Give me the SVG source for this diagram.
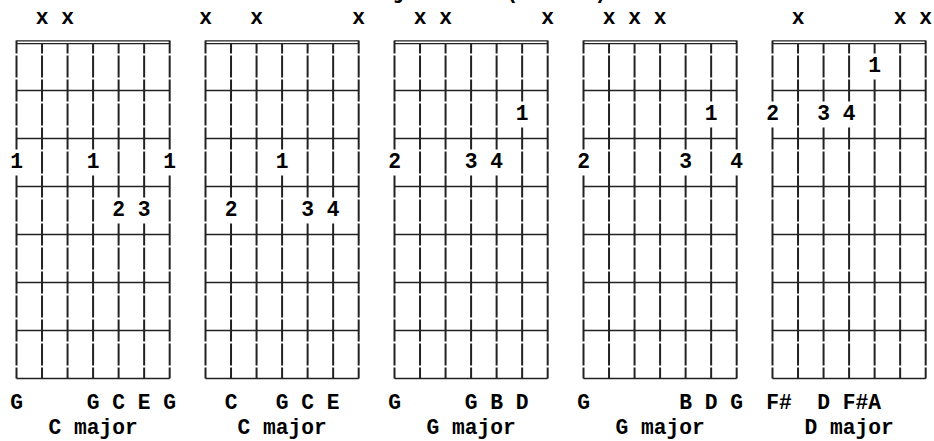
<svg xmlns="http://www.w3.org/2000/svg" width="934" height="441" viewBox="0 0 934 441">
<style>
.t{font-family:"Liberation Mono","DejaVu Sans Mono",monospace;font-weight:bold;font-size:21.275px;fill:#000}
.m{text-anchor:middle}
.s{stroke:#222;stroke-width:2;stroke-dasharray:22 2;fill:none}
.p{stroke:#222;stroke-width:2;fill:none}
.f{stroke:#222;stroke-width:1.7;fill:none}
.d{stroke:#222;stroke-width:1.3;fill:none}
</style>
<defs>
<g id="frame">
<path class="f" d="M0 90.5H153.18M0 138.5H153.18M0 186.5H153.18M0 234.5H153.18M0 282.5H153.18M0 330.5H153.18M0 378.5H153.18"/>
<path class="d" d="M0 40.8H153.18M0 43.6H153.18"/>
<path class="p" d="M0 40.5V53.5M25.53 44V53.5M51.06 44V53.5M76.59 44V53.5M102.12 44V53.5M127.65 44V53.5M153.18 40.5V53.5"/>
</g>
</defs>
<g id="title">
<text class="t m" x="400" y="-2.5">j</text>
<text class="t m" x="512" y="-2.5">(</text>
<text class="t m" x="601" y="-2.5">)</text>
</g>
<g id="chord1" transform="translate(16.5,0)">
<use href="#frame"/>
<line class="s" x1="0" y1="55.5" x2="0" y2="149.5"/><line class="s" x1="0" y1="175.5" x2="0" y2="378.5"/>
<line class="s" x1="25.53" y1="55.5" x2="25.53" y2="378.5"/>
<line class="s" x1="51.06" y1="55.5" x2="51.06" y2="378.5"/>
<line class="s" x1="76.59" y1="55.5" x2="76.59" y2="149.5"/><line class="s" x1="76.59" y1="175.5" x2="76.59" y2="378.5"/>
<line class="s" x1="102.12" y1="55.5" x2="102.12" y2="197.5"/><line class="s" x1="102.12" y1="223.5" x2="102.12" y2="378.5"/>
<line class="s" x1="127.65" y1="55.5" x2="127.65" y2="197.5"/><line class="s" x1="127.65" y1="223.5" x2="127.65" y2="378.5"/>
<line class="s" x1="153.18" y1="55.5" x2="153.18" y2="149.5"/><line class="s" x1="153.18" y1="175.5" x2="153.18" y2="378.5"/>
<text class="t m" x="25.53" y="24">x</text><text class="t m" x="51.06" y="24">x</text>
<text class="t m" x="0" y="168.2">1</text><text class="t m" x="76.59" y="168.2">1</text><text class="t m" x="153.18" y="168.2">1</text>
<text class="t m" x="102.12" y="216.2">2</text><text class="t m" x="127.65" y="216.2">3</text>
<text class="t" x="-6.38" y="409" xml:space="preserve">G     G C E G</text>
<text class="t" x="31.91" y="433.5" xml:space="preserve">C major</text>
</g>
<g id="chord2" transform="translate(205.5,0)">
<use href="#frame"/>
<line class="s" x1="0" y1="55.5" x2="0" y2="378.5"/>
<line class="s" x1="25.53" y1="55.5" x2="25.53" y2="197.5"/><line class="s" x1="25.53" y1="223.5" x2="25.53" y2="378.5"/>
<line class="s" x1="51.06" y1="55.5" x2="51.06" y2="378.5"/>
<line class="s" x1="76.59" y1="55.5" x2="76.59" y2="149.5"/><line class="s" x1="76.59" y1="175.5" x2="76.59" y2="378.5"/>
<line class="s" x1="102.12" y1="55.5" x2="102.12" y2="197.5"/><line class="s" x1="102.12" y1="223.5" x2="102.12" y2="378.5"/>
<line class="s" x1="127.65" y1="55.5" x2="127.65" y2="197.5"/><line class="s" x1="127.65" y1="223.5" x2="127.65" y2="378.5"/>
<line class="s" x1="153.18" y1="55.5" x2="153.18" y2="378.5"/>
<text class="t m" x="0" y="24">x</text><text class="t m" x="51.06" y="24">x</text><text class="t m" x="153.18" y="24">x</text>
<text class="t m" x="76.59" y="168.2">1</text>
<text class="t m" x="25.53" y="216.2">2</text><text class="t m" x="102.12" y="216.2">3</text><text class="t m" x="127.65" y="216.2">4</text>
<text class="t" x="-6.38" y="409" xml:space="preserve">  C   G C E</text>
<text class="t" x="31.91" y="433.5" xml:space="preserve">C major</text>
</g>
<g id="chord3" transform="translate(394.5,0)">
<use href="#frame"/>
<line class="s" x1="0" y1="55.5" x2="0" y2="149.5"/><line class="s" x1="0" y1="175.5" x2="0" y2="378.5"/>
<line class="s" x1="25.53" y1="55.5" x2="25.53" y2="378.5"/>
<line class="s" x1="51.06" y1="55.5" x2="51.06" y2="378.5"/>
<line class="s" x1="76.59" y1="55.5" x2="76.59" y2="149.5"/><line class="s" x1="76.59" y1="175.5" x2="76.59" y2="378.5"/>
<line class="s" x1="102.12" y1="55.5" x2="102.12" y2="149.5"/><line class="s" x1="102.12" y1="175.5" x2="102.12" y2="378.5"/>
<line class="s" x1="127.65" y1="55.5" x2="127.65" y2="101.5"/><line class="s" x1="127.65" y1="127.5" x2="127.65" y2="378.5"/>
<line class="s" x1="153.18" y1="55.5" x2="153.18" y2="378.5"/>
<text class="t m" x="25.53" y="24">x</text><text class="t m" x="51.06" y="24">x</text><text class="t m" x="153.18" y="24">x</text>
<text class="t m" x="127.65" y="120.2">1</text>
<text class="t m" x="0" y="168.2">2</text><text class="t m" x="76.59" y="168.2">3</text><text class="t m" x="102.12" y="168.2">4</text>
<text class="t" x="-6.38" y="409" xml:space="preserve">G     G B D</text>
<text class="t" x="31.91" y="433.5" xml:space="preserve">G major</text>
</g>
<g id="chord4" transform="translate(583.5,0)">
<use href="#frame"/>
<line class="s" x1="0" y1="55.5" x2="0" y2="149.5"/><line class="s" x1="0" y1="175.5" x2="0" y2="378.5"/>
<line class="s" x1="25.53" y1="55.5" x2="25.53" y2="378.5"/>
<line class="s" x1="51.06" y1="55.5" x2="51.06" y2="378.5"/>
<line class="s" x1="76.59" y1="55.5" x2="76.59" y2="378.5"/>
<line class="s" x1="102.12" y1="55.5" x2="102.12" y2="149.5"/><line class="s" x1="102.12" y1="175.5" x2="102.12" y2="378.5"/>
<line class="s" x1="127.65" y1="55.5" x2="127.65" y2="101.5"/><line class="s" x1="127.65" y1="127.5" x2="127.65" y2="378.5"/>
<line class="s" x1="153.18" y1="55.5" x2="153.18" y2="149.5"/><line class="s" x1="153.18" y1="175.5" x2="153.18" y2="378.5"/>
<text class="t m" x="25.53" y="24">x</text><text class="t m" x="51.06" y="24">x</text><text class="t m" x="76.59" y="24">x</text>
<text class="t m" x="127.65" y="120.2">1</text>
<text class="t m" x="0" y="168.2">2</text><text class="t m" x="102.12" y="168.2">3</text><text class="t m" x="153.18" y="168.2">4</text>
<text class="t" x="-6.38" y="409" xml:space="preserve">G       B D G</text>
<text class="t" x="31.91" y="433.5" xml:space="preserve">G major</text>
</g>
<g id="chord5" transform="translate(772.5,0)">
<use href="#frame"/>
<line class="s" x1="0" y1="55.5" x2="0" y2="101.5"/><line class="s" x1="0" y1="127.5" x2="0" y2="378.5"/>
<line class="s" x1="25.53" y1="55.5" x2="25.53" y2="378.5"/>
<line class="s" x1="51.06" y1="55.5" x2="51.06" y2="101.5"/><line class="s" x1="51.06" y1="127.5" x2="51.06" y2="378.5"/>
<line class="s" x1="76.59" y1="55.5" x2="76.59" y2="101.5"/><line class="s" x1="76.59" y1="127.5" x2="76.59" y2="378.5"/>
<line class="s" x1="102.12" y1="79.5" x2="102.12" y2="378.5"/>
<line class="s" x1="127.65" y1="55.5" x2="127.65" y2="378.5"/>
<line class="s" x1="153.18" y1="55.5" x2="153.18" y2="378.5"/>
<text class="t m" x="25.53" y="24">x</text><text class="t m" x="127.65" y="24">x</text><text class="t m" x="153.18" y="24">x</text>
<text class="t m" x="102.12" y="72.2">1</text>
<text class="t m" x="0" y="120.2">2</text><text class="t m" x="51.06" y="120.2">3</text><text class="t m" x="76.59" y="120.2">4</text>
<text class="t" x="-6.38" y="409" xml:space="preserve">F#  D F#A</text>
<text class="t" x="31.91" y="433.5" xml:space="preserve">D major</text>
</g>
<g id="connectors"/>
</svg>
